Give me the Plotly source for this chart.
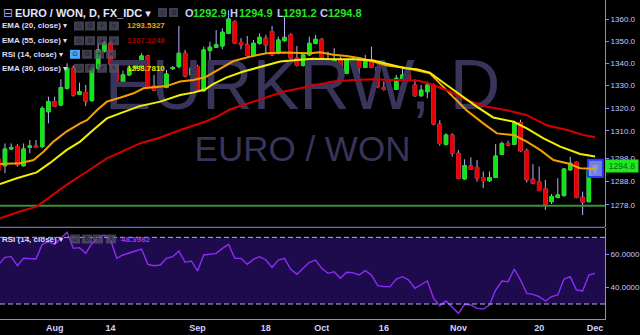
import numpy as np
import pandas as pd
import plotly.graph_objects as go

# ---------------- data ----------------
dates = [d for d in pd.bdate_range("2017-07-19", "2017-12-01").strftime("%Y-%m-%d") if d != "2017-09-29"]
tick_dates = ["2017-08-01", "2017-08-14", "2017-09-01", "2017-09-18", "2017-10-02",
              "2017-10-16", "2017-11-01", "2017-11-20", "2017-12-01"]
tick_text = ["Aug", "14", "Sep", "18", "Oct", "16", "Nov", "20", "Dec"]

opens = [1297.6, 1294.8, 1302.1, 1303.1, 1294.8, 1302.8, 1303.4, 1303.1, 1318.4, 1322.9,
         1321.4, 1328.8, 1337.8, 1326.2, 1326.9, 1323.3, 1337.8, 1345.3, 1349.0, 1340.0,
         1330.3, 1334.8, 1337.8, 1338.5, 1343.3, 1329.8, 1328.0, 1329.2, 1337.6, 1338.5,
         1344.5, 1334.8, 1338.5, 1327.7, 1345.7, 1347.2, 1347.8, 1353.5, 1358.8, 1349.3,
         1348.3, 1343.5, 1349.0, 1351.3, 1354.3, 1344.5, 1350.2, 1352.8, 1342.3, 1339.0,
         1343.8, 1349.0, 1350.8, 1340.6, 1340.0, 1341.8, 1335.5, 1341.2, 1341.2, 1338.1,
         1341.5, 1338.2, 1329.2, 1328.2, 1328.3, 1333.0, 1335.2, 1330.3, 1325.5, 1327.3,
         1330.3, 1313.0, 1304.1, 1308.2, 1300.2, 1289.1, 1294.7, 1294.1, 1289.7, 1288.3,
         1289.7, 1299.8, 1304.5, 1304.1, 1313.6, 1301.3, 1289.0, 1287.9, 1284.8, 1279.3,
         1281.1, 1281.9, 1293.0, 1296.3, 1281.2, 1279.3, 1292.9]
highs = [1298.1, 1304.5, 1304.5, 1304.2, 1304.5, 1306.0, 1306.0, 1320.9, 1325.1, 1325.1,
         1332.8, 1340.0, 1339.0, 1331.3, 1330.3, 1339.3, 1349.0, 1350.0, 1349.7, 1340.3,
         1336.7, 1340.8, 1341.2, 1344.5, 1343.8, 1334.8, 1329.8, 1337.0, 1338.8, 1356.8,
         1346.0, 1340.8, 1339.3, 1347.5, 1349.7, 1355.0, 1355.8, 1364.1, 1359.5, 1351.3,
         1352.3, 1350.5, 1353.5, 1352.8, 1356.8, 1352.0, 1361.0, 1353.5, 1347.8, 1344.5,
         1352.0, 1352.8, 1351.3, 1345.3, 1346.8, 1343.0, 1342.3, 1343.3, 1342.3, 1343.8,
         1347.5, 1340.8, 1331.8, 1332.8, 1334.8, 1338.5, 1338.8, 1332.8, 1330.3, 1331.8,
         1331.0, 1314.7, 1308.9, 1308.9, 1301.6, 1297.6, 1298.4, 1297.3, 1292.3, 1292.3,
         1304.2, 1305.3, 1305.7, 1314.4, 1314.9, 1302.3, 1295.5, 1294.4, 1288.7, 1282.6,
         1289.4, 1293.7, 1298.7, 1296.6, 1283.6, 1293.3, 1294.9]
lows = [1292.4, 1291.6, 1301.6, 1294.4, 1294.4, 1300.2, 1302.4, 1302.4, 1313.3, 1320.6,
        1320.9, 1328.3, 1325.1, 1325.8, 1320.9, 1322.9, 1337.0, 1344.8, 1339.3, 1329.8,
        1329.8, 1334.3, 1337.0, 1337.8, 1328.8, 1327.7, 1327.7, 1328.8, 1337.0, 1337.8,
        1333.7, 1331.8, 1327.7, 1327.3, 1341.5, 1346.8, 1346.3, 1353.1, 1348.6, 1346.3,
        1343.0, 1343.0, 1348.3, 1344.5, 1343.3, 1344.0, 1349.7, 1341.8, 1338.5, 1338.5,
        1343.3, 1348.6, 1342.3, 1339.7, 1339.6, 1333.7, 1335.1, 1340.0, 1335.2, 1337.8,
        1337.8, 1329.1, 1327.7, 1327.7, 1328.0, 1332.5, 1332.1, 1325.1, 1325.1, 1324.4,
        1312.5, 1303.5, 1303.5, 1298.7, 1289.0, 1288.7, 1293.0, 1287.9, 1285.1, 1287.9,
        1289.4, 1299.5, 1303.4, 1303.8, 1300.9, 1287.5, 1286.8, 1283.7, 1275.8, 1278.3,
        1280.7, 1281.5, 1292.7, 1280.7, 1273.6, 1279.0, 1291.2]
closes = [1293.0, 1302.1, 1302.7, 1295.2, 1302.1, 1303.4, 1302.8, 1319.9, 1322.9, 1320.9,
          1329.2, 1337.8, 1325.8, 1327.3, 1323.1, 1337.8, 1346.0, 1349.0, 1339.6, 1330.3,
          1334.8, 1337.8, 1340.0, 1343.3, 1329.2, 1328.0, 1329.2, 1335.2, 1338.1, 1344.5,
          1334.3, 1337.8, 1328.0, 1346.0, 1347.2, 1348.3, 1354.0, 1360.0, 1349.0, 1348.3,
          1343.5, 1349.0, 1351.7, 1348.3, 1343.8, 1350.5, 1351.7, 1342.3, 1339.0, 1343.8,
          1349.0, 1350.8, 1342.7, 1340.0, 1341.8, 1335.5, 1341.5, 1340.3, 1338.1, 1341.5,
          1338.2, 1329.5, 1328.3, 1328.6, 1333.3, 1334.8, 1332.5, 1325.5, 1328.0, 1330.3,
          1313.0, 1304.5, 1308.2, 1300.2, 1289.4, 1294.8, 1293.3, 1289.4, 1288.4, 1289.7,
          1299.0, 1304.5, 1303.8, 1313.6, 1301.3, 1288.7, 1287.2, 1284.1, 1278.2, 1281.5,
          1282.2, 1293.4, 1295.9, 1281.1, 1279.1, 1293.0, 1294.8]

rsi = [53.8, 58.0, 58.4, 53.0, 57.4, 57.4, 57.0, 65.8, 67.4, 65.8,
       69.4, 73.0, 63.4, 63.8, 60.4, 66.4, 69.4, 71.4, 68.4, 57.4,
       59.4, 60.8, 61.8, 63.0, 53.8, 53.0, 53.4, 57.4, 58.4, 61.8,
       55.0, 55.8, 49.8, 59.4, 60.0, 60.4, 63.4, 65.8, 57.4, 57.4,
       53.8, 56.8, 58.4, 56.4, 52.0, 56.4, 57.4, 50.8, 47.8, 51.4,
       55.0, 56.4, 51.4, 48.4, 49.4, 45.4, 49.0, 48.8, 47.4, 50.0,
       47.4, 41.0, 40.4, 40.4, 45.0, 46.4, 44.4, 39.4, 41.4, 43.8,
       33.4, 29.0, 31.8, 28.4, 24.4, 29.8, 29.4, 27.4, 27.0, 29.4,
       38.4, 43.8, 43.4, 51.0, 44.4, 36.4, 35.8, 34.4, 31.8, 34.4,
       35.4, 45.0, 46.4, 38.4, 37.8, 47.4, 48.3982]

ema20_x = [0.2, 3.4, 5.6, 7.2, 8.8, 10.9, 13.1, 14.2, 15.8, 17.4, 19.5, 21.7, 23.3, 25.4, 27.0,
           29.2, 31.3, 33.2, 34.0, 35.6, 37.8, 40.5, 43.1, 45.8, 48.0, 50.1, 51.7, 53.9, 56.0,
           58.2, 60.3, 62.5, 65.4, 67.3, 69.4, 71.0, 73.2, 75.3, 78.0, 80.2, 82.9, 85.0, 87.2,
           89.3, 91.5, 93.6, 96.0]
ema20 = [1295.5, 1295.9, 1297.3, 1300.9, 1305.3, 1309.7, 1313.3, 1314.7, 1319.1, 1322.9, 1324.6,
         1326.6, 1328.8, 1329.2, 1329.8, 1331.8, 1332.5, 1333.7, 1335.0, 1337.8, 1341.0, 1343.0,
         1344.5, 1344.8, 1344.5, 1344.5, 1345.0, 1343.8, 1343.3, 1342.3, 1340.8, 1339.0, 1338.0,
         1336.7, 1335.5, 1331.0, 1325.1, 1319.1, 1313.3, 1308.9, 1308.2, 1305.3, 1301.6, 1297.3,
         1295.9, 1293.7, 1293.5327]
ema30_x = [0.2, 2.9, 6.1, 8.2, 10.9, 13.1, 15.2, 17.4, 19.5, 22.7, 26.0, 29.2, 31.3, 33.2, 34.5,
           36.7, 39.4, 42.1, 45.3, 48.0, 50.6, 53.9, 57.1, 60.3, 63.0, 65.4, 67.3, 69.4, 71.6,
           74.3, 77.0, 79.6, 82.9, 85.0, 87.7, 90.4, 93.6, 96.0]
ema30 = [1286.9, 1289.4, 1291.9, 1295.9, 1301.6, 1305.3, 1310.4, 1315.5, 1317.7, 1320.9, 1322.9,
         1325.8, 1326.9, 1328.3, 1330.7, 1333.7, 1336.3, 1338.5, 1340.8, 1341.5, 1342.0, 1341.8,
         1341.8, 1341.2, 1339.3, 1337.8, 1337.3, 1335.8, 1331.3, 1325.8, 1320.6, 1315.9, 1314.0,
         1311.1, 1306.7, 1303.1, 1299.9, 1298.7810]
ema55_x = [0.2, 3.4, 6.1, 8.8, 10.9, 14.2, 17.4, 20.6, 22.7, 26.0, 29.2, 33.2, 35.1, 37.2, 40.5,
           43.1, 45.8, 48.5, 51.2, 53.9, 57.1, 60.3, 63.0, 65.4, 67.8, 70.0, 72.7, 75.3, 78.6,
           81.8, 85.0, 88.2, 91.5, 94.1, 96.0]
ema55 = [1272.2, 1275.1, 1277.2, 1282.5, 1286.5, 1292.3, 1298.0, 1301.9, 1304.5, 1307.1, 1310.4,
         1314.0, 1316.2, 1319.4, 1322.4, 1324.8, 1327.3, 1328.8, 1330.3, 1331.8, 1332.5, 1332.8,
         1332.5, 1332.5, 1332.1, 1330.3, 1327.3, 1323.6, 1320.6, 1319.1, 1316.9, 1312.5, 1310.4,
         1308.2, 1307.2248]

support_level = 1277.6
price_ticks = [1268, 1278, 1288, 1298, 1310, 1320, 1330, 1340, 1350, 1360]
rsi_ticks = [40, 60]
rsi_upper, rsi_lower = 70, 30

# ---------------- styling / layout constants ----------------
W, H = 640, 335
PW, PH = 605, 319
FONT = "Liberation Sans, Arial, DejaVu Sans, sans-serif"
AX = "#8a8af2"
TXT = "#c8c8ff"
GREEN = "#14e414"
RED = "#e80000"
WICK = "#b4b4ff"
C20, C30, C55 = "#f5a000", "#f0f000", "#d40000"
RSI_C = "#8c2cf5"

x = np.arange(len(dates))
tickvals = [dates.index(d) for d in tick_dates]
x_range = [0.2, 97.6]
lo, hi = np.log10(1268.5), np.log10(1368.7)
rsi_range = [21, 75.6]
main_dom = [1 - 227 / PH, 1]
rsi_dom = [0, 1 - 228 / PH]

fig = go.Figure()

# watermark (behind everything)
xmid = 0.5 * (x_range[0] + x_range[1])
fig.add_trace(go.Scatter(x=[xmid], y=[10 ** (hi - 91 / 227 * (hi - lo))], mode="text",
                         text=["EURKRW, D"], textposition="middle center",
                         textfont=dict(family=FONT, size=70, color="#38345a"),
                         hoverinfo="skip"))
fig.add_trace(go.Scatter(x=[xmid], y=[10 ** (hi - 152 / 227 * (hi - lo))], mode="text",
                         text=["EURO / WON"], textposition="middle center",
                         textfont=dict(family=FONT, size=35, color="#38345a"),
                         hoverinfo="skip"))

# support line
fig.add_trace(go.Scatter(x=x_range, y=[support_level, support_level], mode="lines",
                         line=dict(color="#3e8e3a", width=2), hoverinfo="skip"))

# highlight box around last bar
lx = x[-1]
bx = [lx - 1.15, lx + 1.25, lx + 1.25, lx - 1.15, lx - 1.15]
by0, by1 = lows[-1] * 0.9990, highs[-1] * 1.0019
fig.add_trace(go.Scatter(x=bx, y=[by0, by0, by1, by1, by0], mode="lines", fill="toself",
                         fillcolor="rgba(140,150,255,0.85)", line=dict(color="#2a36ff", width=2),
                         hoverinfo="skip"))

# candles: wicks (lavender) then bodies
body_hi = list(np.maximum(opens, closes))
body_lo = list(np.minimum(opens, closes))
fig.add_trace(go.Candlestick(x=x, open=opens, high=highs, low=lows, close=closes,
                             increasing=dict(line=dict(color=WICK, width=1), fillcolor=WICK),
                             decreasing=dict(line=dict(color=WICK, width=1), fillcolor=WICK),
                             whiskerwidth=0, hoverinfo="skip"))
fig.add_trace(go.Candlestick(x=x, open=opens, high=body_hi, low=body_lo, close=closes,
                             increasing=dict(line=dict(color=GREEN, width=1), fillcolor=GREEN),
                             decreasing=dict(line=dict(color=RED, width=1), fillcolor=RED),
                             whiskerwidth=0, hoverinfo="skip"))

# EMAs
fig.add_trace(go.Scatter(x=ema20_x, y=ema20, mode="lines", line=dict(color=C20, width=2), hoverinfo="skip"))
fig.add_trace(go.Scatter(x=ema55_x, y=ema55, mode="lines", line=dict(color=C55, width=2), hoverinfo="skip"))
fig.add_trace(go.Scatter(x=ema30_x, y=ema30, mode="lines", line=dict(color=C30, width=2), hoverinfo="skip"))

# RSI
fig.add_trace(go.Scatter(x=x, y=rsi, yaxis="y2", mode="lines",
                         line=dict(color=RSI_C, width=1.4), hoverinfo="skip"))

shapes = [
    dict(type="rect", xref="paper", yref="y2", x0=0, x1=1, y0=rsi_lower, y1=rsi_upper,
         fillcolor="#1e0b4e", line=dict(width=0), layer="below"),
    dict(type="line", xref="paper", yref="y2", x0=0, x1=1, y0=rsi_upper, y1=rsi_upper,
         line=dict(color="#b4acff", width=1, dash="5px,3px")),
    dict(type="line", xref="paper", yref="y2", x0=0, x1=1, y0=rsi_lower, y1=rsi_lower,
         line=dict(color="#b4acff", width=1, dash="5px,3px")),
    dict(type="line", xref="paper", yref="paper", x0=0, x1=1, y0=1 - 227.3 / PH, y1=1 - 227.3 / PH,
         line=dict(color=AX, width=1)),
]
annotations = []


def txt(xp, yp, s, color, size, bold=True):
    annotations.append(dict(xref="paper", yref="paper", x=xp / PW, y=1 - yp / PH,
                            xanchor="left", yanchor="middle",
                            text=("<b>%s</b>" % s) if bold else s, showarrow=False,
                            borderpad=0, font=dict(family=FONT, size=size, color=color)))


def ibox(x0, y0, x1, y1, fill, glyph):
    shapes.append(dict(type="rect", xref="paper", yref="paper", x0=x0 / PW, x1=x1 / PW,
                       y0=1 - y1 / PH, y1=1 - y0 / PH, fillcolor=fill, line=dict(width=0),
                       layer="above"))
    annotations.append(dict(xref="paper", yref="paper", x=(x0 + x1) / 2 / PW,
                            y=1 - (y0 + y1) / 2 / PH, xanchor="center", yanchor="middle",
                            text=glyph, showarrow=False, borderpad=0,
                            font=dict(family="DejaVu Sans", size=7, color="#202030")))


GREY = "rgba(88,88,108,0.7)"
BLUE = "#4aa8ff"
glyphs = ["⊙", "⚙", "+", "×"]

# title row
annotations.append(dict(xref="paper", yref="paper", x=2 / PW, y=1 - 12.5 / PH, xanchor="left",
                        yanchor="middle", text="⊟", showarrow=False, borderpad=0,
                        font=dict(family="DejaVu Sans", size=12, color="#a0a0ff")))
txt(14, 12.5, "EURO / WON, D, FX_IDC ▾", "#e6e6ff", 11)
ibox(158, 8, 167, 17, GREY, glyphs[0])
ibox(169, 8, 178, 17, GREY, glyphs[1])
ohlc = [("O", opens[-1], 184, 192), ("H", highs[-1], 229, 238),
        ("L", lows[-1], 276, 282), ("C", closes[-1], 319, 327)]
for lab, val, xl, xv in ohlc:
    txt(xl, 12.5, lab, TXT, 11)
    txt(xv, 12.5, "%.1f" % val, "#22e822", 11)

# indicator rows
rows = [("EMA (20, close) ▾", 26.0, "%.4f" % ema20[-1], C20, [74, 85, 97, 109], False),
        ("EMA (55, close) ▾", 40.7, "%.4f" % ema55[-1], "#a80000", [74, 85, 97, 109], False),
        ("RSI (14, close) ▾", 54.3, None, None, [70, 82, 94, 106], True),
        ("EMA (30, close) ▾", 68.3, "%.4f" % ema30[-1], "#e6e600", [74, 85, 97, 109], False)]
for label, yy, val, vcol, bxs, blue in rows:
    txt(1, yy, label, "#dcdcff", 8)
    for k, b0 in enumerate(bxs):
        ibox(b0, yy - 4.5, b0 + 10, yy + 4.5, BLUE if (blue and k == 0) else GREY, glyphs[k])
    if val is not None:
        txt(126, yy, val, vcol, 8)

# RSI pane legend
txt(1, 239, "RSI (14, close) ▾", "#dcdcff", 8)
for k, b0 in enumerate([70, 82, 93, 106]):
    ibox(b0, 234.5, b0 + 10, 243.5, GREY, glyphs[k])
txt(120, 239, "%.4f" % rsi[-1], "#9933ff", 8)

# last price label
annotations.append(dict(xref="paper", yref="y", x=1.0, y=np.log10(closes[-1]), xanchor="left",
                        yanchor="middle", text="%.1f" % closes[-1], showarrow=False,
                        bgcolor="#22e822", borderpad=1, width=30,
                        font=dict(family=FONT, size=8.5, color="#106010")))

fig.update_layout(
    width=W, height=H, margin=dict(l=0, r=35, t=0, b=16),
    paper_bgcolor="black", plot_bgcolor="black", showlegend=False,
    boxgap=0.2, shapes=shapes, annotations=annotations,
    xaxis=dict(range=x_range, tickvals=tickvals, ticktext=["<b>%s</b>" % t for t in tick_text],
               showgrid=False, zeroline=False, showline=True, linecolor=AX, linewidth=1,
               ticks="", tickfont=dict(family=FONT, size=9, color="#d0d0ff"),
               rangeslider=dict(visible=False), anchor="y2", fixedrange=True),
    yaxis=dict(domain=main_dom, type="log", range=[lo, hi], side="right", anchor="x",
               tickvals=price_ticks, ticktext=["%.1f" % v for v in price_ticks],
               ticks="outside", ticklen=3, tickcolor=AX, showline=True, linecolor=AX,
               showgrid=False, zeroline=False, tickfont=dict(family=FONT, size=8, color=TXT),
               fixedrange=True),
    yaxis2=dict(domain=rsi_dom, range=rsi_range, side="right", anchor="x",
                tickvals=rsi_ticks, ticktext=["%.4f" % v for v in rsi_ticks],
                ticks="outside", ticklen=3, tickcolor=AX, showline=True, linecolor=AX,
                showgrid=False, zeroline=False, tickfont=dict(family=FONT, size=8, color=TXT),
                fixedrange=True),
)

fig.write_html("out.html", config={"displayModeBar": False})
